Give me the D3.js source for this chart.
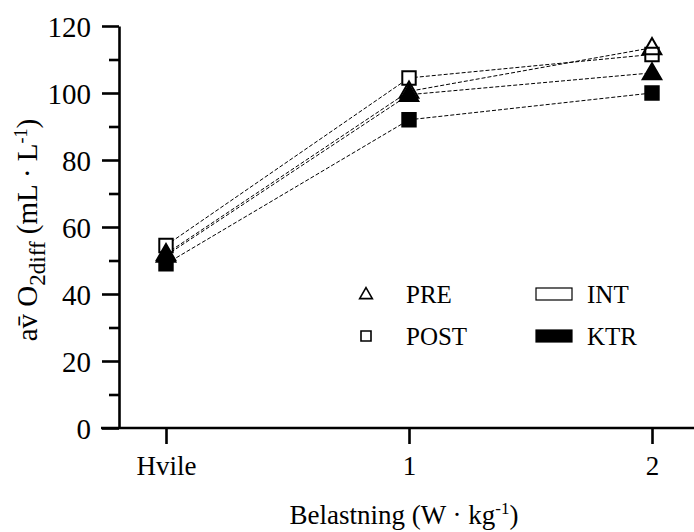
<!DOCTYPE html>
<html><head><meta charset="utf-8">
<script src="https://cdn.jsdelivr.net/npm/d3@7"></script>
<style>
html,body{margin:0;padding:0;background:#fff;}
svg text{font-family:"Liberation Serif","Times New Roman",serif;fill:#000;}
</style></head>
<body>
<svg id="c" width="694" height="532"></svg>
<script>
const categories = ["Hvile", "1", "2"];
const preInt  = [52, 100.5, 113.5];
const preKtr  = [51.5, 99.5, 106];
const postInt = [54.5, 104.5, 111.5];
const postKtr = [49, 92, 100];
const yMajorTicks = [0, 20, 40, 60, 80, 100, 120];
const yMinorTicks = [10, 30, 50, 70, 90, 110];

const series = [
  {name:"POST-KTR", values: postKtr, shape:"square", fill:"#000"},
  {name:"POST-INT", values: postInt, shape:"square", fill:"#fff"},
  {name:"PRE-KTR",  values: preKtr,  shape:"triangle", fill:"#000"},
  {name:"PRE-INT",  values: preInt,  shape:"triangle", fill:"none"}
];

const FF = "'Liberation Serif','Times New Roman',serif";
const svg = d3.select("#c");
const x = d3.scalePoint().domain(categories).range([166, 652]);
const y = d3.scaleLinear().domain([0, 120]).range([428, 26]);

// axes
const yAxis = d3.axisLeft(y).tickValues(yMajorTicks).tickSize(17).tickSizeOuter(0).tickPadding(11);
const gy = svg.append("g").attr("transform","translate(119,0)").call(yAxis);
gy.selectAll("text").style("font-size","29px").attr("dy","0.35em");
const gym = svg.append("g").attr("transform","translate(119,0)")
  .call(d3.axisLeft(y).tickValues(yMinorTicks).tickSize(10).tickSizeOuter(0).tickFormat(""));
gym.select(".domain").remove();

const xAxis = d3.axisBottom(x).tickSize(16).tickSizeOuter(0).tickPadding(12);
const gx = svg.append("g").attr("transform","translate(0,428)").call(xAxis);
gx.select(".domain").attr("d","M101,0H694");
gx.selectAll("text").style("font-size","27px");

svg.selectAll("g").attr("font-family", FF);
svg.selectAll(".domain, .tick line").attr("stroke","#000").attr("stroke-width",2.6);

// lines
const line = d3.line().x((d,i)=>x(categories[i])).y(d=>y(d));
series.forEach(s=>{
  svg.append("path").datum(s.values).attr("d", line)
    .attr("fill","none").attr("stroke","#000").attr("stroke-width",1)
    .attr("stroke-dasharray","4,2");
});

// markers
const symSquare = d3.symbol().type(d3.symbolSquare).size(180);
const symTri = d3.symbol().type(d3.symbolTriangle).size(150);
series.forEach(s=>{
  svg.selectAll(null).data(s.values).enter().append("path")
    .attr("d", s.shape==="square" ? symSquare() : symTri())
    .attr("transform",(d,i)=>`translate(${x(categories[i])},${y(d) + (s.shape==="triangle"?1:0)})`)
    .attr("fill", s.fill).attr("stroke","#000").attr("stroke-width",2);
});

// legend
const lg = svg.append("g");
lg.append("path").attr("d", d3.symbol().type(d3.symbolTriangle).size(70)())
  .attr("transform","translate(366,295)").attr("fill","none").attr("stroke","#000").attr("stroke-width",1.6);
lg.append("path").attr("d", d3.symbol().type(d3.symbolSquare).size(100)())
  .attr("transform","translate(366,336)").attr("fill","none").attr("stroke","#000").attr("stroke-width",1.6);
lg.append("rect").attr("x",536).attr("y",288).attr("width",36).attr("height",12)
  .attr("fill","#fff").attr("stroke","#000").attr("stroke-width",1.2);
lg.append("rect").attr("x",536).attr("y",330).attr("width",36).attr("height",12)
  .attr("fill","#000").attr("stroke","#000").attr("stroke-width",1.2);
const legTexts = [["PRE",406,303],["POST",406,345],["INT",587,303],["KTR",587,345]];
legTexts.forEach(t=>{
  lg.append("text").attr("x",t[1]).attr("y",t[2]).attr("font-family",FF).style("font-size","25px").text(t[0]);
});

// axis titles
const xt = svg.append("text").attr("x",404).attr("y",524).attr("text-anchor","middle")
  .attr("font-family",FF).style("font-size","27px");
xt.append("tspan").text("Belastning (W \u00B7 kg");
xt.append("tspan").attr("dy",-10).style("font-size","17px").text("-1");
xt.append("tspan").attr("dy",10).text(")");

const yt = svg.append("text").attr("transform","translate(37,230) rotate(-90)")
  .attr("text-anchor","middle").attr("font-family",FF).style("font-size","29px");
yt.append("tspan").text("av\u0304 O");
yt.append("tspan").attr("dy",8).style("font-size","23px").text("2diff");
yt.append("tspan").attr("dy",-8).text(" (mL \u00B7 L");
yt.append("tspan").attr("dy",-10).style("font-size","18px").text("-1");
yt.append("tspan").attr("dy",10).text(")");
</script>
</body></html>
